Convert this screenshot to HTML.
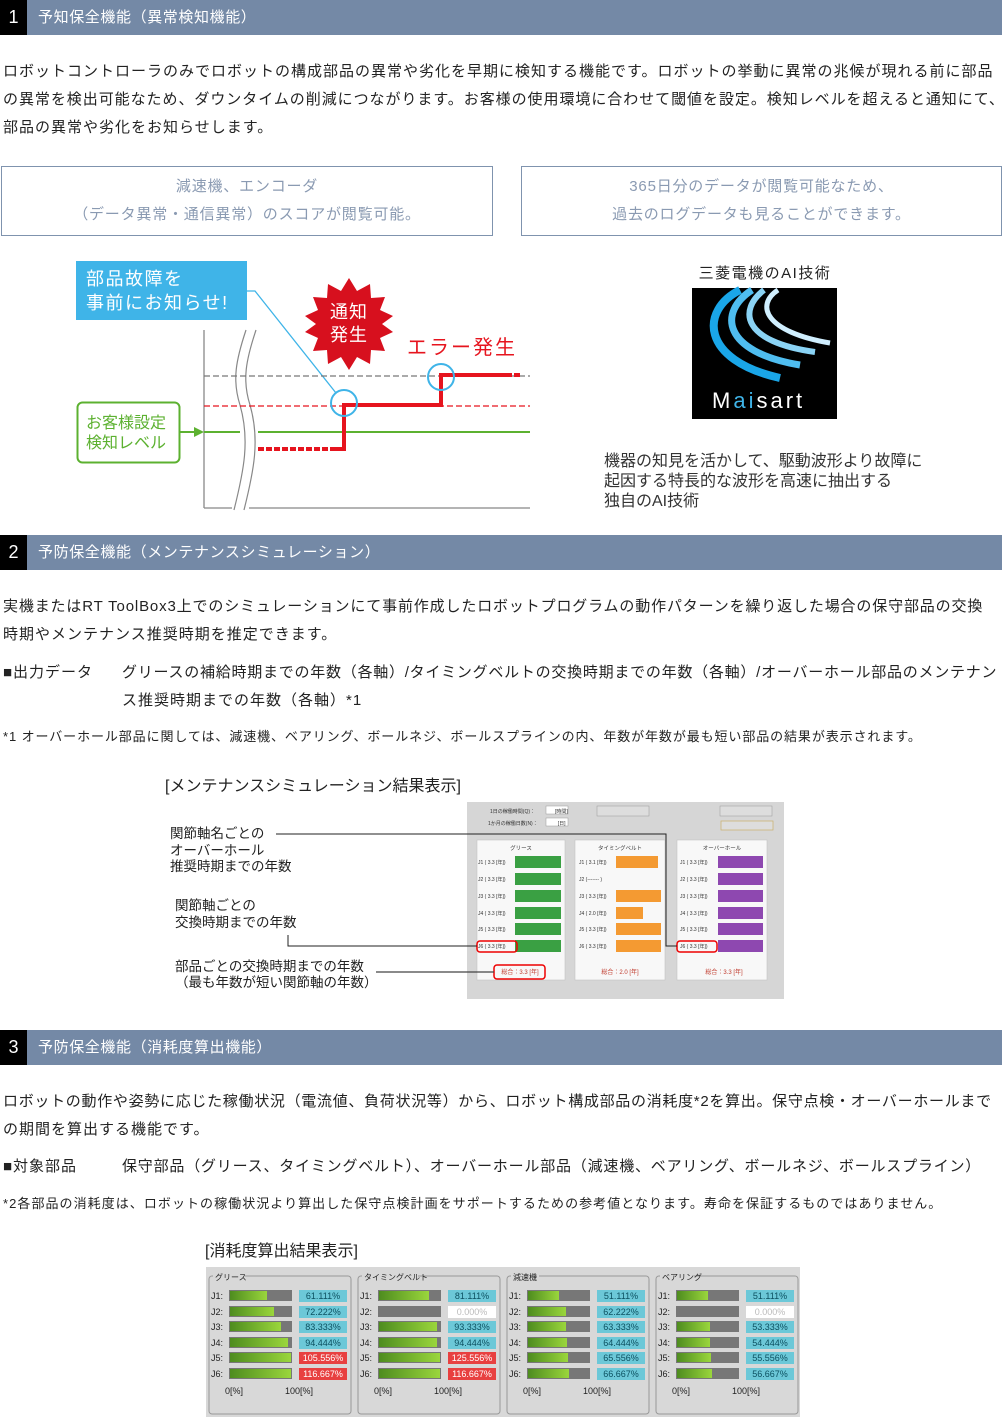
<!DOCTYPE html>
<html><head><meta charset="utf-8">
<style>
*{margin:0;padding:0;box-sizing:border-box}
body{width:1002px;height:1422px;position:relative;background:#fff;font-family:"Liberation Sans","Noto Sans CJK JP",sans-serif;color:#222;overflow:hidden}
.a{position:absolute;white-space:nowrap}
.hd{position:absolute;left:0;width:1002px;height:35px;background:#7489a6}
.hd .n{position:absolute;left:0;top:0;width:27px;height:35px;background:#000;color:#fff;font-size:18px;line-height:35px;text-align:center}
.hd .t{position:absolute;left:38px;top:0;color:#fff;font-size:15px;line-height:35px;letter-spacing:0.6px}
.p{font-size:15px;line-height:28px;letter-spacing:1px}
.nt{font-size:13px;letter-spacing:0.9px}
.bx{position:absolute;border:1px solid #7f93ae;color:#8a9ab2;font-size:15px;line-height:28px;text-align:center;padding-top:6px;letter-spacing:0.8px}
svg text{font-family:"Liberation Sans","Noto Sans CJK JP",sans-serif}
</style></head><body>

<div class="hd" style="top:0"><div class="n">1</div><div class="t">予知保全機能（異常検知機能）</div></div>
<div class="a p" style="left:3px;top:58px">ロボットコントローラのみでロボットの構成部品の異常や劣化を早期に検知する機能です。ロボットの挙動に異常の兆候が現れる前に部品</div>
<div class="a p" style="left:3px;top:86px;letter-spacing:0.95px">の異常を検出可能なため、ダウンタイムの削減につながります。お客様の使用環境に合わせて閾値を設定。検知レベルを超えると通知にて、</div>
<div class="a p" style="left:3px;top:114px">部品の異常や劣化をお知らせします。</div>

<div class="bx" style="left:1px;top:166px;width:492px;height:70px">減速機、エンコーダ<br>（データ異常・通信異常）のスコアが閲覧可能。</div>
<div class="bx" style="left:521px;top:166px;width:481px;height:70px">365日分のデータが閲覧可能なため、<br>過去のログデータも見ることができます。</div>

<svg class="a" style="left:0;top:0" width="1002" height="1422" viewBox="0 0 1002 1422">
 <rect x="76" y="261" width="171" height="59" fill="#3fb4e8"/>
 <text x="86" y="285" font-size="18" fill="#fff" letter-spacing="1.5">部品故障を</text>
 <text x="86" y="309" font-size="18" fill="#fff" letter-spacing="1.5">事前にお知らせ!</text>
 <polyline points="247,291 255,291 336,393" fill="none" stroke="#3fb4e8" stroke-width="1.3"/>
 <line x1="204" y1="330" x2="204" y2="508" stroke="#888" stroke-width="1.3"/>
 <line x1="204" y1="508" x2="232" y2="508" stroke="#888" stroke-width="1.3"/>
 <line x1="249" y1="508" x2="530" y2="508" stroke="#888" stroke-width="1.3"/>
 <path d="M246,330 C236,360 232,380 240,405 C250,440 244,470 234,510" fill="none" stroke="#888" stroke-width="1.2"/>
 <path d="M256,330 C246,360 242,380 250,405 C260,440 254,470 244,510" fill="none" stroke="#888" stroke-width="1.2"/>
 <line x1="204" y1="376" x2="530" y2="376" stroke="#777" stroke-width="1.3" stroke-dasharray="6,3"/>
 <line x1="204" y1="406" x2="530" y2="406" stroke="#e6141e" stroke-width="1.3" stroke-dasharray="6,3"/>
 <line x1="204" y1="432" x2="240" y2="432" stroke="#5cb130" stroke-width="2"/>
 <line x1="258" y1="432" x2="530" y2="432" stroke="#5cb130" stroke-width="2"/>
 <line x1="180" y1="432" x2="196" y2="432" stroke="#5cb130" stroke-width="2"/>
 <polygon points="194,427 204,432 194,437" fill="#5cb130"/>
 <rect x="77.5" y="402.5" width="102" height="60" rx="5" fill="#fff" stroke="#5cb130" stroke-width="2"/>
 <text x="86" y="428" font-size="16" fill="#5cb130">お客様設定</text>
 <text x="86" y="448" font-size="16" fill="#5cb130">検知レベル</text>
 <line x1="258" y1="449" x2="336" y2="449" stroke="#e6141e" stroke-width="4" stroke-dasharray="6,2"/>
 <polyline points="334,449 344,449 344,405 441,405 441,375 506,375" fill="none" stroke="#e6141e" stroke-width="4"/>
 <line x1="506" y1="375" x2="521" y2="375" stroke="#e6141e" stroke-width="4" stroke-dasharray="6,2"/>
 <circle cx="344" cy="403" r="13" fill="none" stroke="#3fb4e8" stroke-width="2"/>
 <circle cx="441" cy="377" r="13" fill="none" stroke="#3fb4e8" stroke-width="2"/>
 <polygon fill="#d7101e" points="349,278 357,291 370,284 371,298 385,297 380,310 393,316 382,324 393,332 380,338 385,351 371,350 370,364 357,357 349,370 341,357 328,364 327,350 313,351 318,338 305,332 316,324 305,316 318,310 313,297 327,298 328,284 341,291"/>
 <text x="330" y="318" font-size="18" fill="#fff" letter-spacing="1">通知</text>
 <text x="330" y="341" font-size="18" fill="#fff" letter-spacing="1">発生</text>
 <text x="407" y="354" font-size="20" fill="#e6141e" letter-spacing="2">エラー発生</text>

 <text x="765" y="278" font-size="15" fill="#222" text-anchor="middle" letter-spacing="1.5">三菱電機のAI技術</text>
 <rect x="692" y="288" width="145" height="131" fill="#000"/>
 <path d="M740,290 C700,310 700,360 780,378" fill="none" stroke="#1aa6e8" stroke-width="8"/>
 <path d="M752,290 C718,312 722,352 800,365" fill="none" stroke="#4fbdf0" stroke-width="7"/>
 <path d="M764,290 C738,310 742,342 815,352" fill="none" stroke="#8ad3f5" stroke-width="6"/>
 <path d="M778,290 C755,305 765,332 830,343" fill="none" stroke="#d0efff" stroke-width="5"/>
 <text x="712" y="408" font-size="22" fill="#fff" letter-spacing="3">M<tspan fill="#3fb4e8">ai</tspan>sart</text>
 <text x="604" y="466" font-size="16" fill="#333">機器の知見を活かして、駆動波形より故障に</text>
 <text x="604" y="486" font-size="16" fill="#333">起因する特長的な波形を高速に抽出する</text>
 <text x="604" y="506" font-size="16" fill="#333">独自のAI技術</text>

 <text x="165" y="791" font-size="16" fill="#222">[メンテナンスシミュレーション結果表示]</text>
 <rect x="467" y="802" width="317" height="197" fill="#d6d6d6"/>
 <rect x="546" y="806" width="22" height="8" fill="#fff" stroke="#999" stroke-width=".5"/>
 <rect x="546" y="818" width="22" height="8" fill="#fff" stroke="#999" stroke-width=".5"/>
 <text x="490" y="813" font-size="5" fill="#333">1日の稼働時間(Q)：　　　　[時間]</text>
 <text x="488" y="825" font-size="5" fill="#333">1か月の稼働日数(N)：　　　　[日]</text>
 <rect x="597" y="806" width="52" height="10" fill="#ddd" stroke="#999" stroke-width=".5"/>
 <rect x="720" y="806" width="52" height="10" fill="#ddd" stroke="#999" stroke-width=".5"/>
 <rect x="721" y="821" width="52" height="9" fill="#ddd" stroke="#c9b06a" stroke-width=".7"/>
 <rect x="477" y="840" width="88" height="140" fill="#f8f8f8" stroke="#bbb" stroke-width=".5"/>
 <rect x="575" y="840" width="90" height="140" fill="#f8f8f8" stroke="#bbb" stroke-width=".5"/>
 <rect x="677" y="840" width="90" height="140" fill="#f8f8f8" stroke="#bbb" stroke-width=".5"/>
 <text x="521" y="850" font-size="5.5" text-anchor="middle" fill="#333">グリース</text>
 <text x="620" y="850" font-size="5.5" text-anchor="middle" fill="#333">タイミングベルト</text>
 <text x="722" y="850" font-size="5.5" text-anchor="middle" fill="#333">オーバーホール</text>
 <g fill="#3aa043">
  <rect x="515" y="856" width="46" height="12"/><rect x="515" y="873" width="46" height="12"/><rect x="515" y="890" width="46" height="12"/><rect x="515" y="907" width="46" height="12"/><rect x="515" y="923" width="46" height="12"/><rect x="515" y="940" width="46" height="12"/>
 </g>
 <g fill="#f49a32">
  <rect x="616" y="856" width="42" height="12"/><rect x="616" y="890" width="45" height="12"/><rect x="616" y="907" width="27" height="12"/><rect x="616" y="923" width="45" height="12"/><rect x="616" y="940" width="45" height="12"/>
 </g>
 <g fill="#8e48b0">
  <rect x="718" y="856" width="45" height="12"/><rect x="718" y="873" width="45" height="12"/><rect x="718" y="890" width="45" height="12"/><rect x="718" y="907" width="45" height="12"/><rect x="718" y="923" width="45" height="12"/><rect x="718" y="940" width="45" height="12"/>
 </g>
 <g font-size="5" fill="#333">
  <text x="478" y="864">J1 ( 3.3 [年])</text><text x="478" y="881">J2 ( 3.3 [年])</text><text x="478" y="898">J3 ( 3.3 [年])</text><text x="478" y="915">J4 ( 3.3 [年])</text><text x="478" y="931">J5 ( 3.3 [年])</text><text x="478" y="948">J6 ( 3.3 [年])</text>
  <text x="579" y="864">J1 ( 3.1 [年])</text><text x="579" y="881">J2 (------- )</text><text x="579" y="898">J3 ( 3.3 [年])</text><text x="579" y="915">J4 ( 2.0 [年])</text><text x="579" y="931">J5 ( 3.3 [年])</text><text x="579" y="948">J6 ( 3.3 [年])</text>
  <text x="680" y="864">J1 ( 3.3 [年])</text><text x="680" y="881">J2 ( 3.3 [年])</text><text x="680" y="898">J3 ( 3.3 [年])</text><text x="680" y="915">J4 ( 3.3 [年])</text><text x="680" y="931">J5 ( 3.3 [年])</text><text x="680" y="948">J6 ( 3.3 [年])</text>
 </g>
 <g font-size="6" fill="#c0392b" text-anchor="middle">
  <text x="520" y="974">総合：3.3 [年]</text><text x="620" y="974">総合：2.0 [年]</text><text x="724" y="974">総合：3.3 [年]</text>
 </g>
 <rect x="477" y="941" width="40" height="11" rx="3" fill="none" stroke="#e00" stroke-width="1.5"/>
 <rect x="494" y="965" width="51" height="14" rx="3" fill="none" stroke="#e00" stroke-width="1.5"/>
 <rect x="677" y="941" width="40" height="11" rx="3" fill="none" stroke="#e00" stroke-width="1.5"/>
 <polyline points="276,834 666,834 666,946 677,946" fill="none" stroke="#222" stroke-width="1"/>
 <polyline points="288,935 288,946 477,946" fill="none" stroke="#222" stroke-width="1"/>
 <line x1="376" y1="972" x2="494" y2="972" stroke="#444" stroke-width="1.3"/>
 <g font-size="13.5" fill="#222">
  <text x="170" y="838">関節軸名ごとの</text><text x="170" y="855">オーバーホール</text><text x="170" y="871">推奨時期までの年数</text>
  <text x="175" y="910">関節軸ごとの</text><text x="175" y="927">交換時期までの年数</text>
  <text x="175" y="971">部品ごとの交換時期までの年数</text><text x="175" y="987">（最も年数が短い関節軸の年数）</text>
 </g>

 <text x="205" y="1256" font-size="16" fill="#222">[消耗度算出結果表示]</text>
 <rect x="206" y="1267" width="594" height="150" fill="#d8d8d8"/>
</svg>

<div class="hd" style="top:535px"><div class="n">2</div><div class="t">予防保全機能（メンテナンスシミュレーション）</div></div>
<div class="a p" style="left:3px;top:593px;letter-spacing:0.85px">実機またはRT ToolBox3上でのシミュレーションにて事前作成したロボットプログラムの動作パターンを繰り返した場合の保守部品の交換</div>
<div class="a p" style="left:3px;top:621px">時期やメンテナンス推奨時期を推定できます。</div>
<div class="a p" style="left:3px;top:659px">■出力データ</div>
<div class="a p" style="left:122px;top:659px;letter-spacing:0.75px">グリースの補給時期までの年数（各軸）/タイミングベルトの交換時期までの年数（各軸）/オーバーホール部品のメンテナン</div>
<div class="a p" style="left:122px;top:687px">ス推奨時期までの年数（各軸）*1</div>
<div class="a nt" style="left:3px;top:726px">*1 オーバーホール部品に関しては、減速機、ベアリング、ボールネジ、ボールスプラインの内、年数が年数が最も短い部品の結果が表示されます。</div>

<div class="hd" style="top:1030px"><div class="n">3</div><div class="t">予防保全機能（消耗度算出機能）</div></div>
<div class="a p" style="left:3px;top:1088px;letter-spacing:0.7px">ロボットの動作や姿勢に応じた稼働状況（電流値、負荷状況等）から、ロボット構成部品の消耗度*2を算出。保守点検・オーバーホールまで</div>
<div class="a p" style="left:3px;top:1116px">の期間を算出する機能です。</div>
<div class="a p" style="left:3px;top:1153px">■対象部品</div>
<div class="a p" style="left:122px;top:1153px;letter-spacing:0.8px">保守部品（グリース、タイミングベルト）、オーバーホール部品（減速機、ベアリング、ボールネジ、ボールスプライン）</div>
<div class="a nt" style="left:3px;top:1193px;letter-spacing:1.05px">*2各部品の消耗度は、ロボットの稼働状況より算出した保守点検計画をサポートするための参考値となります。寿命を保証するものではありません。</div>

<svg class="a" style="left:0;top:0" width="1002" height="1422" viewBox="0 0 1002 1422">
 <defs><linearGradient id="g2" x1="0" y1="0" x2="1" y2="0"><stop offset="0" stop-color="#4e8c1f"/><stop offset="1" stop-color="#9ad63c"/></linearGradient></defs>
 <g font-size="9" fill="#222">
 <g transform="translate(207,0)">
  <rect x="2" y="1276" width="142" height="138" rx="3" fill="none" stroke="#999"/>
  <rect x="6" y="1271" width="32" height="10" fill="#d8d8d8"/><text x="8" y="1280" font-size="8">グリース</text>
  <g fill="#777"><rect x="22" y="1290" width="63" height="11"/><rect x="22" y="1306" width="63" height="11"/><rect x="22" y="1321" width="63" height="11"/><rect x="22" y="1337" width="63" height="11"/><rect x="22" y="1352" width="63" height="11"/><rect x="22" y="1368" width="63" height="11"/></g>
  <g fill="url(#g2)"><rect x="23" y="1291" width="37" height="9"/><rect x="23" y="1307" width="44" height="9"/><rect x="23" y="1322" width="51" height="9"/><rect x="23" y="1338" width="58" height="9"/><rect x="23" y="1353" width="61" height="9"/><rect x="23" y="1369" width="61" height="9"/></g>
  <g fill="#6cc8d8"><rect x="92" y="1290" width="48" height="12"/><rect x="92" y="1306" width="48" height="12"/><rect x="92" y="1321" width="48" height="12"/><rect x="92" y="1337" width="48" height="12"/></g>
  <g fill="#e84040"><rect x="92" y="1352" width="48" height="12"/><rect x="92" y="1368" width="48" height="12"/></g>
  <text x="4" y="1299">J1:</text><text x="4" y="1315">J2:</text><text x="4" y="1330">J3:</text><text x="4" y="1346">J4:</text><text x="4" y="1361">J5:</text><text x="4" y="1377">J6:</text>
  <g text-anchor="middle" fill="#0c5060"><text x="116" y="1299">61.111%</text><text x="116" y="1315">72.222%</text><text x="116" y="1330">83.333%</text><text x="116" y="1346">94.444%</text></g>
  <g text-anchor="middle" fill="#fff"><text x="116" y="1361">105.556%</text><text x="116" y="1377">116.667%</text></g>
  <text x="18" y="1394">0[%]</text><text x="78" y="1394">100[%]</text>
 </g>
 <g transform="translate(356,0)">
  <rect x="2" y="1276" width="142" height="138" rx="3" fill="none" stroke="#999"/>
  <rect x="6" y="1271" width="56" height="10" fill="#d8d8d8"/><text x="8" y="1280" font-size="8">タイミングベルト</text>
  <g fill="#777"><rect x="22" y="1290" width="63" height="11"/><rect x="22" y="1306" width="63" height="11"/><rect x="22" y="1321" width="63" height="11"/><rect x="22" y="1337" width="63" height="11"/><rect x="22" y="1352" width="63" height="11"/><rect x="22" y="1368" width="63" height="11"/></g>
  <g fill="url(#g2)"><rect x="23" y="1291" width="50" height="9"/><rect x="23" y="1322" width="58" height="9"/><rect x="23" y="1338" width="58" height="9"/><rect x="23" y="1353" width="61" height="9"/><rect x="23" y="1369" width="61" height="9"/></g>
  <g fill="#6cc8d8"><rect x="92" y="1290" width="48" height="12"/><rect x="92" y="1321" width="48" height="12"/><rect x="92" y="1337" width="48" height="12"/></g>
  <rect x="92" y="1306" width="48" height="12" fill="#fff"/>
  <g fill="#e84040"><rect x="92" y="1352" width="48" height="12"/><rect x="92" y="1368" width="48" height="12"/></g>
  <text x="4" y="1299">J1:</text><text x="4" y="1315">J2:</text><text x="4" y="1330">J3:</text><text x="4" y="1346">J4:</text><text x="4" y="1361">J5:</text><text x="4" y="1377">J6:</text>
  <g text-anchor="middle" fill="#0c5060"><text x="116" y="1299">81.111%</text><text x="116" y="1330">93.333%</text><text x="116" y="1346">94.444%</text></g>
  <text x="116" y="1315" text-anchor="middle" fill="#bbb">0.000%</text>
  <g text-anchor="middle" fill="#fff"><text x="116" y="1361">125.556%</text><text x="116" y="1377">116.667%</text></g>
  <text x="18" y="1394">0[%]</text><text x="78" y="1394">100[%]</text>
 </g>
 <g transform="translate(505,0)">
  <rect x="2" y="1276" width="142" height="138" rx="3" fill="none" stroke="#999"/>
  <rect x="6" y="1271" width="28" height="10" fill="#d8d8d8"/><text x="8" y="1280" font-size="8">減速機</text>
  <g fill="#777"><rect x="22" y="1290" width="63" height="11"/><rect x="22" y="1306" width="63" height="11"/><rect x="22" y="1321" width="63" height="11"/><rect x="22" y="1337" width="63" height="11"/><rect x="22" y="1352" width="63" height="11"/><rect x="22" y="1368" width="63" height="11"/></g>
  <g fill="url(#g2)"><rect x="23" y="1291" width="31" height="9"/><rect x="23" y="1307" width="38" height="9"/><rect x="23" y="1322" width="38" height="9"/><rect x="23" y="1338" width="39" height="9"/><rect x="23" y="1353" width="40" height="9"/><rect x="23" y="1369" width="41" height="9"/></g>
  <g fill="#6cc8d8"><rect x="92" y="1290" width="48" height="12"/><rect x="92" y="1306" width="48" height="12"/><rect x="92" y="1321" width="48" height="12"/><rect x="92" y="1337" width="48" height="12"/><rect x="92" y="1352" width="48" height="12"/><rect x="92" y="1368" width="48" height="12"/></g>
  <text x="4" y="1299">J1:</text><text x="4" y="1315">J2:</text><text x="4" y="1330">J3:</text><text x="4" y="1346">J4:</text><text x="4" y="1361">J5:</text><text x="4" y="1377">J6:</text>
  <g text-anchor="middle" fill="#0c5060"><text x="116" y="1299">51.111%</text><text x="116" y="1315">62.222%</text><text x="116" y="1330">63.333%</text><text x="116" y="1346">64.444%</text><text x="116" y="1361">65.556%</text><text x="116" y="1377">66.667%</text></g>
  <text x="18" y="1394">0[%]</text><text x="78" y="1394">100[%]</text>
 </g>
 <g transform="translate(654,0)">
  <rect x="2" y="1276" width="142" height="138" rx="3" fill="none" stroke="#999"/>
  <rect x="6" y="1271" width="34" height="10" fill="#d8d8d8"/><text x="8" y="1280" font-size="8">ベアリング</text>
  <g fill="#777"><rect x="22" y="1290" width="63" height="11"/><rect x="22" y="1306" width="63" height="11"/><rect x="22" y="1321" width="63" height="11"/><rect x="22" y="1337" width="63" height="11"/><rect x="22" y="1352" width="63" height="11"/><rect x="22" y="1368" width="63" height="11"/></g>
  <g fill="url(#g2)"><rect x="23" y="1291" width="31" height="9"/><rect x="23" y="1322" width="33" height="9"/><rect x="23" y="1338" width="33" height="9"/><rect x="23" y="1353" width="34" height="9"/><rect x="23" y="1369" width="35" height="9"/></g>
  <g fill="#6cc8d8"><rect x="92" y="1290" width="48" height="12"/><rect x="92" y="1321" width="48" height="12"/><rect x="92" y="1337" width="48" height="12"/><rect x="92" y="1352" width="48" height="12"/><rect x="92" y="1368" width="48" height="12"/></g>
  <rect x="92" y="1306" width="48" height="12" fill="#fff"/>
  <text x="4" y="1299">J1:</text><text x="4" y="1315">J2:</text><text x="4" y="1330">J3:</text><text x="4" y="1346">J4:</text><text x="4" y="1361">J5:</text><text x="4" y="1377">J6:</text>
  <g text-anchor="middle" fill="#0c5060"><text x="116" y="1299">51.111%</text><text x="116" y="1330">53.333%</text><text x="116" y="1346">54.444%</text><text x="116" y="1361">55.556%</text><text x="116" y="1377">56.667%</text></g>
  <text x="116" y="1315" text-anchor="middle" fill="#bbb">0.000%</text>
  <text x="18" y="1394">0[%]</text><text x="78" y="1394">100[%]</text>
 </g>
 </g>
</svg>
</body></html>
